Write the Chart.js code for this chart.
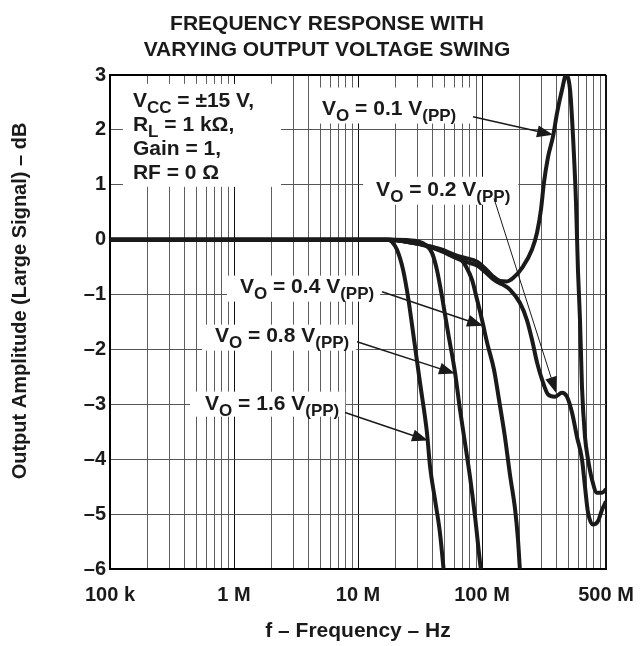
<!DOCTYPE html>
<html>
<head>
<meta charset="utf-8">
<title>Frequency response with varying output voltage swing</title>
<script src="https://cdn.jsdelivr.net/npm/chart.js@4.4.1/dist/chart.umd.min.js"></script>
<style>
  html, body { margin: 0; background: #fff; }
  canvas { display: block; }
</style>
</head>
<body>
<canvas id="swing" width="642" height="646"></canvas>
<script>
const FONT = '"Liberation Sans", Arial, Helvetica, sans-serif';
const INK = '#1a1a1a';

// frequency (Hz) / amplitude (dB)
const freq01 = [1e5, 1e6, 1e7, 1.81e7, 2.48e7, 3.34e7, 4.58e7, 6.28e7, 7.57e7, 9.12e7, 1.1e8, 1.23e8, 1.4e8, 1.59e8, 1.78e8, 2.14e8, 2.53e8, 2.78e8, 2.99e8, 3.16e8, 3.41e8, 3.74e8, 4.03e8, 4.42e8, 4.76e8, 5.13e8, 5.42e8, 5.73e8, 5.94e8, 6.17e8, 6.4e8, 6.77e8, 7.16e8, 7.71e8, 8.46e8, 9.29e8, 1e9];
const db01 = [0, 0, 0, 0, -0.04, -0.09, -0.17, -0.29, -0.34, -0.4, -0.56, -0.67, -0.75, -0.76, -0.7, -0.49, -0.18, 0.13, 0.55, 1.04, 1.51, 1.88, 2.31, 2.73, 3.0, 2.73, 1.88, 0.67, -0.55, -1.46, -2.68, -3.59, -4.0, -4.37, -4.61, -4.61, -4.55];

const freq02 = [1e5, 1e6, 1e7, 1.81e7, 2.48e7, 3.34e7, 4.58e7, 6.28e7, 7.57e7, 9.12e7, 1.1e8, 1.23e8, 1.4e8, 1.48e8, 1.68e8, 2.02e8, 2.3e8, 2.53e8, 2.78e8, 3.05e8, 3.41e8, 3.88e8, 4.42e8, 4.84e8, 5.32e8, 5.83e8, 6.4e8, 6.77e8, 7.16e8, 7.85e8, 8.61e8, 9.29e8, 1e9];
const db02 = [0, 0, 0, 0, -0.04, -0.1, -0.2, -0.34, -0.41, -0.47, -0.62, -0.72, -0.8, -0.82, -0.91, -1.15, -1.46, -1.82, -2.24, -2.55, -2.82, -2.86, -2.79, -2.86, -3.15, -3.59, -4.0, -4.5, -4.97, -5.19, -5.13, -4.92, -4.77];

const freq04 = [1e5, 1e6, 1e7, 1.81e7, 2.48e7, 3.34e7, 4.58e7, 6.06e7, 6.77e7, 7.43e7, 8.3e7, 9.12e7, 1.0e8, 1.1e8, 1.25e8, 1.37e8, 1.53e8, 1.68e8, 1.85e8, 1.95e8, 2.02e8];
const db04 = [0, 0, 0, 0, -0.04, -0.09, -0.18, -0.31, -0.36, -0.49, -0.73, -1.09, -1.46, -1.88, -2.37, -2.91, -3.59, -4.28, -4.92, -5.46, -6.0];

const freq08 = [1e5, 1e6, 1e7, 2.0e7, 2.88e7, 3.47e7, 3.95e7, 4.33e7, 4.76e7, 5.32e7, 6.06e7, 6.65e7, 7.29e7, 8.0e7, 8.79e7, 9.64e7, 9.8e7];
const db08 = [0, 0, 0, 0, -0.02, -0.09, -0.24, -0.55, -1.04, -1.69, -2.42, -3.1, -3.7, -4.32, -5.05, -5.88, -6.0];

const freq16 = [1e5, 1e6, 1e7, 1.75e7, 1.88e7, 2.06e7, 2.31e7, 2.53e7, 2.78e7, 3.16e7, 3.6e7, 3.81e7, 4.18e7, 4.58e7, 4.9e7];
const db16 = [0, 0, 0, 0, -0.04, -0.18, -0.55, -1.04, -1.69, -2.6, -3.52, -4.13, -4.74, -5.34, -6.0];

const tickFreqs = [1e5, 1e6, 1e7, 1e8, 1e9];
const tickLabels = ['100 k', '1 M', '10 M', '100 M', '500 M'];
const minorSteps = [2, 3, 4, 5, 6, 7, 8, 9];
const dbMin = -6, dbMax = 3;

const pts = (f, d) => f.map((v, i) => ({ x: v, y: d[i] }));

// callouts: text left/baseline in data units, box padding in px [l, t, r, b]
const callouts = [
  { lines: ['V_{CC} = ±15 V,', 'R_{L} = 1 kΩ,', 'Gain = 1,', 'RF = 0 Ω'], at: [1.53e5, 2.42], pad: [10, 23, 27, 8] },
  { lines: ['V_{O} = 0.1 V_{(PP)}'], at: [5.13e6, 2.28], pad: [6, 27, 17, 9], tail: [8.46e7, 2.24], tip: [3.74e8, 1.91] },
  { lines: ['V_{O} = 0.2 V_{(PP)}'], at: [1.4e7, 0.80], pad: [13, 19, 8, 9], tail: [1.25e8, 0.75], tip: [3.95e8, -2.79], thin: true },
  { lines: ['V_{O} = 0.4 V_{(PP)}'], at: [1.117e6, -0.965], pad: [13, 17, 6, 9], tail: [1.563e7, -0.95], tip: [1.02e8, -1.57] },
  { lines: ['V_{O} = 0.8 V_{(PP)}'], at: [7.03e5, -1.858], pad: [13, 17, 7, 9], tail: [9.82e6, -1.86], tip: [6.06e7, -2.44] },
  { lines: ['V_{O} = 1.6 V_{(PP)}'], at: [5.84e5, -3.097], pad: [15, 18, 6, 7], tail: [7.86e6, -3.15], tip: [3.67e7, -3.66] }
];

function runs(str) {
  return str.split(/_\{([^}]*)\}/).map((t, i) => [t, i % 2 === 1]).filter(r => r[0]);
}

function drawRuns(ctx, str, px, py, measureOnly) {
  let cx = px;
  runs(str).forEach(([t, sub]) => {
    ctx.font = 'bold ' + (sub ? 17 : 21) + 'px ' + FONT;
    if (!measureOnly) ctx.fillText(t, cx, py + (sub ? 6 : 0));
    cx += ctx.measureText(t).width;
  });
  return cx - px;
}

function arrow(ctx, x0, y0, x1, y1, thin) {
  const a = Math.atan2(y1 - y0, x1 - x0), L = 16, W = 6;
  ctx.lineWidth = thin ? 1 : 1.5;
  ctx.beginPath();
  ctx.moveTo(x0, y0);
  ctx.lineTo(x1 - L * 0.8 * Math.cos(a), y1 - L * 0.8 * Math.sin(a));
  ctx.stroke();
  ctx.beginPath();
  ctx.moveTo(x1, y1);
  ctx.lineTo(x1 - L * Math.cos(a) + W * Math.sin(a), y1 - L * Math.sin(a) - W * Math.cos(a));
  ctx.lineTo(x1 - L * Math.cos(a) - W * Math.sin(a), y1 - L * Math.sin(a) + W * Math.cos(a));
  ctx.closePath();
  ctx.fill();
}

const calloutPlugin = {
  id: 'callouts',
  afterDatasetsDraw(chart) {
    const { ctx, scales: { x, y } } = chart;
    ctx.save();
    ctx.fillStyle = INK;
    ctx.strokeStyle = INK;
    ctx.textBaseline = 'alphabetic';
    ctx.textAlign = 'left';
    callouts.forEach(c => {
      const px = x.getPixelForValue(c.at[0]);
      const py = y.getPixelForValue(c.at[1]);
      const gap = 24;
      const w = Math.max(...c.lines.map(l => drawRuns(ctx, l, 0, 0, true)));
      const [pl, pt, pr, pb] = c.pad;
      ctx.fillStyle = '#fff';
      ctx.fillRect(px - pl, py - pt, w + pl + pr, pt + pb + gap * (c.lines.length - 1));
      ctx.fillStyle = INK;
      c.lines.forEach((l, i) => drawRuns(ctx, l, px, py + i * gap));
      if (c.tip) {
        arrow(ctx, x.getPixelForValue(c.tail[0]), y.getPixelForValue(c.tail[1]),
              x.getPixelForValue(c.tip[0]), y.getPixelForValue(c.tip[1]), c.thin);
      }
    });
    ctx.restore();
  },
  afterDraw(chart) {
    const { ctx, chartArea } = chart;
    ctx.save();
    ctx.translate(20, (chartArea.top + chartArea.bottom) / 2 - 21);
    ctx.rotate(-Math.PI / 2);
    ctx.textAlign = 'center';
    ctx.textBaseline = 'middle';
    ctx.fillStyle = INK;
    ctx.font = 'bold 20px ' + FONT;
    ctx.fillText('Output Amplitude (Large Signal) \u2013 dB', 0, 0);
    ctx.restore();
  }
};

const series = [
  ['VO = 0.1 V(PP)', freq01, db01],
  ['VO = 0.2 V(PP)', freq02, db02],
  ['VO = 0.4 V(PP)', freq04, db04],
  ['VO = 0.8 V(PP)', freq08, db08],
  ['VO = 1.6 V(PP)', freq16, db16]
];

new Chart('swing', {
  type: 'line',
  data: {
    datasets: series.map(([label, f, d]) => ({
      label,
      data: pts(f, d),
      borderColor: INK,
      borderWidth: 4,
      pointRadius: 0,
      fill: false,
      cubicInterpolationMode: 'monotone'
    }))
  },
  plugins: [calloutPlugin],
  options: {
    responsive: false,
    animation: false,
    layout: { padding: { left: 12, right: 0, top: 0, bottom: 0 } },
    plugins: {
      legend: { display: false },
      tooltip: { enabled: false },
      title: {
        display: true,
        text: ['FREQUENCY RESPONSE WITH', 'VARYING OUTPUT VOLTAGE SWING'],
        color: INK,
        font: { family: FONT, size: 21, weight: 'bold', lineHeight: 1.2 },
        padding: { top: 12, bottom: 12.6 }
      }
    },
    scales: {
      x: {
        type: 'logarithmic',
        min: tickFreqs[0],
        max: tickFreqs[tickFreqs.length - 1],
        afterBuildTicks: scale => {
          const vals = [];
          tickFreqs.slice(0, -1).forEach(d => {
            vals.push(d);
            minorSteps.forEach(m => vals.push(d * m));
          });
          vals.push(tickFreqs[tickFreqs.length - 1]);
          scale.ticks = vals.map(v => ({ value: v }));
        },
        afterFit: scale => {
          scale.height = 77;
          scale.paddingLeft = 0;
          scale.paddingRight = 0;
        },
        ticks: {
          autoSkip: false,
          maxRotation: 0,
          padding: 14,
          color: INK,
          font: { family: FONT, size: 20, weight: 'bold' },
          callback: v => {
            const i = tickFreqs.indexOf(v);
            return i < 0 ? '' : tickLabels[i];
          }
        },
        grid: {
          drawTicks: false,
          color: c => c.tick && tickFreqs.includes(c.tick.value) ? '#111' : '#5e5e5e',
          lineWidth: c => c.tick && c.tick.value === tickFreqs[tickFreqs.length - 1] ? 2 : 1
        },
        border: { color: '#000', width: 2 },
        title: {
          display: true,
          text: 'f \u2013 Frequency \u2013 Hz',
          color: INK,
          font: { family: FONT, size: 21, weight: 'bold' },
          padding: { top: 0, bottom: 2 }
        }
      },
      y: {
        min: dbMin,
        max: dbMax,
        afterFit: scale => { scale.width = 98; },
        ticks: {
          stepSize: 1,
          padding: 4,
          color: INK,
          font: { family: FONT, size: 20, weight: 'bold' },
          callback: v => v < 0 ? '\u2013' + (-v) : String(v)
        },
        grid: {
          drawTicks: false,
          color: c => c.tick && c.tick.value === dbMax ? '#000' : '#555',
          lineWidth: c => c.tick && c.tick.value === dbMax ? 2 : 1
        },
        border: { color: '#000', width: 2 }
      },
      pad: {
        position: 'right',
        display: true,
        afterFit: scale => { scale.width = 36; },
        ticks: { display: false },
        grid: { display: false, drawTicks: false },
        border: { display: false }
      }
    }
  }
});
</script>
</body>
</html>
